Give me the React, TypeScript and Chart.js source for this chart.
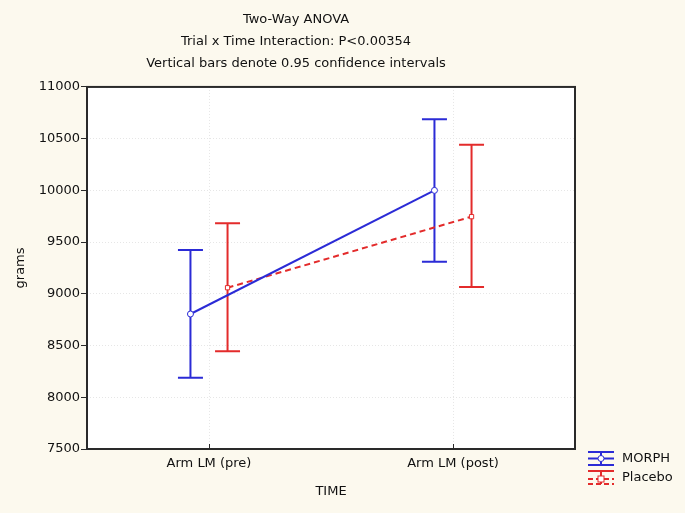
import React, { useEffect, useRef } from 'react';
import { Chart, registerables } from 'chart.js';

Chart.register(...registerables);

const categories = ['Arm LM (pre)', 'Arm LM (post)'];
const seriesNames = ['MORPH', 'Placebo'];
const morphMean = [8805, 10000];
const morphLow = [8189, 9311];
const morphHigh = [9424, 10688];
const placeboMean = [9059, 9746];
const placeboLow = [8444, 9066];
const placeboHigh = [9683, 10442];
const yMin = 7500;
const yMax = 11000;
const yStep = 500;
const titleLines = [
  'Two-Way ANOVA',
  'Trial x Time Interaction: P<0.00354',
  'Vertical bars denote 0.95 confidence intervals',
];
const xTitle = 'TIME';
const yTitle = 'grams';

const BLUE = '#2b2bd6';
const RED = '#e32b2b';
const TEXT = '#111111';
const BG = '#fcf9ee';
const FONT = "'DejaVu Sans', 'Liberation Sans', Arial, sans-serif";
const DODGE = 0.076;

const errorBarPlugin = {
  id: 'errorBars',
  beforeDatasetsDraw(chart: any) {
    const ctx = chart.ctx;
    const xs = chart.scales.x;
    const ys = chart.scales.y;
    chart.data.datasets.forEach((ds: any) => {
      ctx.save();
      ctx.strokeStyle = ds.borderColor;
      ctx.lineWidth = 2;
      ctx.setLineDash([]);
      ds.data.forEach((p: any, i: number) => {
        const x = xs.getPixelForValue(p.x);
        const y1 = ys.getPixelForValue(ds.errLow[i]);
        const y2 = ys.getPixelForValue(ds.errHigh[i]);
        ctx.beginPath();
        ctx.moveTo(x, y1);
        ctx.lineTo(x, y2);
        ctx.moveTo(x - 12.5, y1);
        ctx.lineTo(x + 12.5, y1);
        ctx.moveTo(x - 12.5, y2);
        ctx.lineTo(x + 12.5, y2);
        ctx.stroke();
      });
      ctx.restore();
    });
  },
};

const framePlugin = {
  id: 'frame',
  beforeDraw(chart: any) {
    const { ctx, chartArea: a } = chart;
    ctx.save();
    ctx.fillStyle = BG;
    ctx.fillRect(0, 0, chart.width, chart.height);
    ctx.fillStyle = '#ffffff';
    ctx.fillRect(a.left, a.top, a.right - a.left, a.bottom - a.top);
    ctx.restore();
  },
  afterDraw(chart: any) {
    const { ctx, chartArea: a } = chart;
    ctx.save();
    ctx.strokeStyle = '#2a2a2a';
    ctx.lineWidth = 2;
    ctx.setLineDash([]);
    ctx.strokeRect(a.left, a.top, a.right - a.left, a.bottom - a.top);
    const xs = chart.scales.x;
    ctx.lineWidth = 1;
    ctx.beginPath();
    xs.ticks.forEach((t: any) => {
      const x = Math.round(xs.getPixelForValue(t.value)) + 0.5;
      ctx.moveTo(x, a.bottom);
      ctx.lineTo(x, a.bottom - 5);
    });
    ctx.stroke();

    // legend
    const lx0 = a.right + 13;
    const lx1 = a.right + 39;
    const cx = (lx0 + lx1) / 2;
    const tx = a.right + 47;
    const y0 = a.bottom;
    ctx.lineWidth = 2;
    // MORPH
    ctx.strokeStyle = BLUE;
    ctx.beginPath();
    ctx.moveTo(lx0, y0 + 3); ctx.lineTo(lx1, y0 + 3);
    ctx.moveTo(lx0, y0 + 9.5); ctx.lineTo(lx1, y0 + 9.5);
    ctx.moveTo(lx0, y0 + 16); ctx.lineTo(lx1, y0 + 16);
    ctx.moveTo(cx, y0 + 3); ctx.lineTo(cx, y0 + 16);
    ctx.stroke();
    ctx.fillStyle = '#fff';
    ctx.lineWidth = 1;
    ctx.beginPath();
    ctx.arc(cx, y0 + 9.5, 3, 0, Math.PI * 2);
    ctx.fill();
    ctx.stroke();
    // Placebo
    ctx.strokeStyle = RED;
    ctx.lineWidth = 2;
    ctx.beginPath();
    ctx.moveTo(lx0, y0 + 22); ctx.lineTo(lx1, y0 + 22);
    ctx.moveTo(cx, y0 + 22); ctx.lineTo(cx, y0 + 35);
    ctx.stroke();
    ctx.setLineDash([5, 3]);
    ctx.beginPath();
    ctx.moveTo(lx0, y0 + 30); ctx.lineTo(lx1, y0 + 30);
    ctx.moveTo(lx0, y0 + 35); ctx.lineTo(lx1, y0 + 35);
    ctx.stroke();
    ctx.setLineDash([]);
    ctx.lineWidth = 1;
    ctx.fillStyle = '#fff';
    ctx.fillRect(cx - 3, y0 + 27, 6, 6);
    ctx.strokeRect(cx - 3, y0 + 27, 6, 6);

    ctx.fillStyle = TEXT;
    ctx.font = `13px ${FONT}`;
    ctx.textAlign = 'left';
    ctx.textBaseline = 'middle';
    ctx.fillText(seriesNames[0], tx, y0 + 10);
    ctx.fillText(seriesNames[1], tx, y0 + 29);
    ctx.restore();
  },
};

export default function App() {
  const ref = useRef<HTMLCanvasElement | null>(null);
  useEffect(() => {
    if (!ref.current) return;
    const yTicks: number[] = [];
    for (let v = yMin; v <= yMax; v += yStep) yTicks.push(v);
    const chart = new Chart(ref.current, {
      type: 'line',
      data: {
        datasets: [
          {
            label: seriesNames[0],
            data: categories.map((_, i) => ({ x: i + 0.5 - DODGE, y: morphMean[i] })),
            errLow: morphLow,
            errHigh: morphHigh,
            borderColor: BLUE,
            backgroundColor: '#ffffff',
            borderWidth: 2,
            pointRadius: 3,
            pointBorderWidth: 1,
            pointStyle: 'circle',
            pointBackgroundColor: '#ffffff',
            pointBorderColor: BLUE,
            tension: 0,
          } as any,
          {
            label: seriesNames[1],
            data: categories.map((_, i) => ({ x: i + 0.5 + DODGE, y: placeboMean[i] })),
            errLow: placeboLow,
            errHigh: placeboHigh,
            borderColor: RED,
            backgroundColor: '#ffffff',
            borderWidth: 2,
            borderDash: [6, 4],
            pointRadius: 3,
            pointBorderWidth: 1,
            pointStyle: 'rect',
            pointBackgroundColor: '#ffffff',
            pointBorderColor: RED,
            tension: 0,
          } as any,
        ],
      },
      options: {
        responsive: false,
        animation: false,
        events: [],
        layout: { padding: { left: 17, right: 110, top: 0, bottom: 0 } },
        plugins: {
          legend: { display: false },
          tooltip: { enabled: false },
          title: {
            display: true,
            text: titleLines,
            color: TEXT,
            font: { family: FONT, size: 13, weight: 'normal', lineHeight: 1.66 },
            padding: { top: 9.2, bottom: 13 },
          },
        },
        scales: {
          x: {
            type: 'linear',
            min: 0,
            max: categories.length,
            afterBuildTicks: (s: any) => {
              s.ticks = categories.map((_, i) => ({ value: i + 0.5 }));
            },
            afterFit: (s: any) => {
              s.height = 64;
            },
            ticks: {
              callback: (_v: any, i: number) => categories[i],
              color: TEXT,
              font: { family: FONT, size: 13 },
              padding: 7,
              autoSkip: false,
              maxRotation: 0,
            },
            grid: { color: '#e6e6e6', drawTicks: false, lineWidth: 1 },
            border: { display: false, dash: [1, 2] },
            title: {
              display: true,
              text: xTitle,
              color: TEXT,
              font: { family: FONT, size: 13, lineHeight: 1.2 },
              padding: { top: 0, bottom: 13.2 },
            },
          },
          y: {
            min: yMin,
            max: yMax,
            afterBuildTicks: (s: any) => {
              s.ticks = yTicks.map((v) => ({ value: v }));
            },
            afterFit: (s: any) => {
              s.width = 70;
            },
            ticks: {
              callback: (v: any) => String(v),
              color: TEXT,
              font: { family: FONT, size: 13 },
              padding: 1,
            },
            grid: { color: '#e6e6e6', tickColor: '#2a2a2a', tickLength: 6, lineWidth: 1, tickBorderDash: [] },
            border: { display: false, dash: [1, 2] },
            title: {
              display: true,
              text: yTitle,
              color: TEXT,
              font: { family: FONT, size: 13, lineHeight: 0.5 },
              padding: { top: 0, bottom: 0 },
            },
          },
        },
      } as any,
      plugins: [framePlugin, errorBarPlugin],
    });
    return () => chart.destroy();
  }, []);
  return (
    <div style={{ position: 'absolute', left: 0, top: 0, width: 685, height: 513, background: BG }}>
      <canvas ref={ref} width={685} height={513} style={{ display: 'block', width: 685, height: 513 }} />
    </div>
  );
}
